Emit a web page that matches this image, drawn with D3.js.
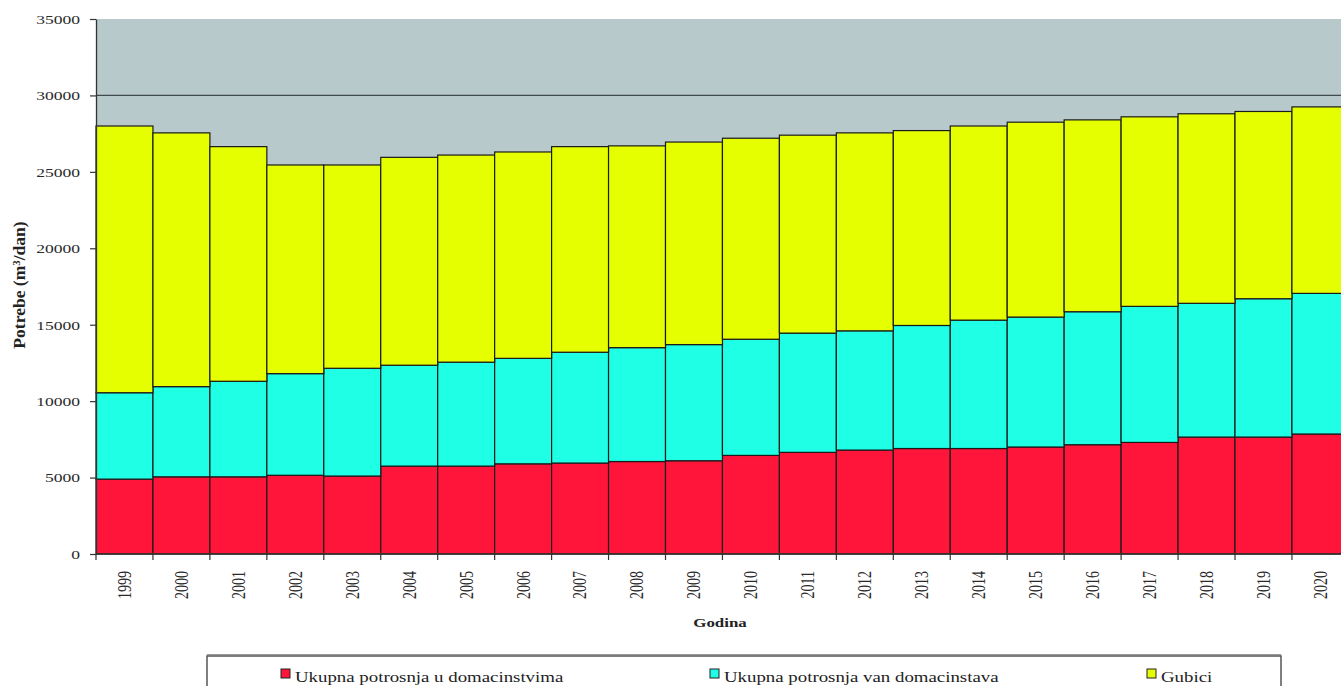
<!DOCTYPE html>
<html>
<head>
<meta charset="utf-8">
<script src="https://cdn.jsdelivr.net/npm/d3@7"></script>
<style>
  html, body { margin: 0; padding: 0; background: #fff; }
  svg { display: block; font-family: "Liberation Serif", "Times New Roman", serif; }
</style>
</head>
<body>
<svg id="chart" width="1341" height="686"></svg>
<script>
// Daily water demand by year (m3/dan)
const years = ["1999","2000","2001","2002","2003","2004","2005","2006","2007","2008","2009",
               "2010","2011","2012","2013","2014","2015","2016","2017","2018","2019","2020"];
const households    = [4900, 5050, 5050, 5150, 5100, 5750, 5750, 5900, 5950, 6050, 6100,
                       6450, 6650, 6800, 6900, 6900, 7000, 7150, 7300, 7650, 7650, 7850];
const nonHouseholds = [5650, 5900, 6250, 6650, 7050, 6600, 6800, 6900, 7250, 7450, 7600,
                       7600, 7800, 7800, 8050, 8400, 8500, 8700, 8900, 8750, 9050, 9200];
const losses        = [17450, 16600, 15350, 13650, 13300, 13600, 13550, 13500, 13450, 13200, 13250,
                       13150, 12950, 12950, 12750, 12700, 12750, 12550, 12400, 12400, 12250, 12200];
const seriesNames = ["Ukupna potrosnja u domacinstvima", "Ukupna potrosnja van domacinstava", "Gubici"];
const seriesColors = ["#ff143a", "#1effe6", "#e6ff00"];
const yTicks = [0, 5000, 10000, 15000, 20000, 25000, 30000, 35000];

const svg = d3.select("#chart");
const SX = 1.3; // wide lettering used throughout the chart
const plotLeft = 96, plotTop = 19, plotBottom = 554, bandW = 56.95;

const rows = years.map((yr, i) => ({ year: yr, h: households[i], n: nonHouseholds[i], g: losses[i] }));
const keys = ["h", "n", "g"];
const stack = d3.stack().keys(keys)(rows);

const x = d3.scaleBand().domain(years).range([plotLeft, plotLeft + bandW * years.length]).padding(0);
const y = d3.scaleLinear().domain([0, 35000]).range([plotBottom, plotTop]);

// plot background
svg.append("rect")
  .attr("x", plotLeft).attr("y", plotTop)
  .attr("width", x.range()[1] - plotLeft).attr("height", plotBottom - plotTop)
  .attr("fill", "#b7c9cb");

// horizontal gridlines
svg.append("g").selectAll("line")
  .data(yTicks.filter(t => t > 0 && t < 35000))
  .join("line")
  .attr("x1", plotLeft).attr("x2", x.range()[1])
  .attr("y1", d => y(d)).attr("y2", d => y(d))
  .attr("stroke", "#3f4a4c").attr("stroke-width", 1.2);

// stacked bars
svg.append("g").selectAll("g")
  .data(stack)
  .join("g")
  .attr("fill", (d, i) => seriesColors[i])
  .selectAll("rect")
  .data(d => d)
  .join("rect")
  .attr("x", d => x(d.data.year))
  .attr("width", x.bandwidth())
  .attr("y", d => y(d[1]))
  .attr("height", d => y(d[0]) - y(d[1]))
  .attr("stroke", "#1a1a1a")
  .attr("stroke-width", 1.2);

// y axis
const yAxis = svg.append("g")
  .attr("transform", `translate(${plotLeft},0)`)
  .call(d3.axisLeft(y).tickValues(yTicks).tickSize(6).tickSizeOuter(0).tickFormat(d3.format("d")));
yAxis.select(".domain").attr("stroke", "#333").attr("stroke-width", 1.3);
yAxis.selectAll(".tick line").attr("stroke", "#333").attr("stroke-width", 1.2);
yAxis.selectAll(".tick text")
  .attr("x", -16 / SX)
  .attr("transform", `scale(${SX},1)`)
  .attr("font-family", "Liberation Serif")
  .attr("font-size", 13.5)
  .attr("fill", "#2a2a2a");

// x axis line and boundary ticks
svg.append("line")
  .attr("x1", plotLeft).attr("x2", x.range()[1])
  .attr("y1", plotBottom).attr("y2", plotBottom)
  .attr("stroke", "#333").attr("stroke-width", 1.3);
const edges = years.map(d => x(d)).concat([x.range()[1]]);
svg.append("g").selectAll("line")
  .data(edges)
  .join("line")
  .attr("x1", d => d).attr("x2", d => d)
  .attr("y1", plotBottom).attr("y2", plotBottom + 6)
  .attr("stroke", "#333").attr("stroke-width", 1.2);

// year labels
svg.append("g").selectAll("text")
  .data(years)
  .join("text")
  .attr("transform", d => `translate(${x(d) + x.bandwidth() / 2},571) scale(${SX},1) rotate(-90)`)
  .attr("text-anchor", "end")
  .attr("dy", "0.35em")
  .attr("font-size", 14)
  .attr("fill", "#2a2a2a")
  .text(d => d);

// axis titles
svg.append("text")
  .attr("transform", `translate(720,627) scale(${SX},1)`)
  .attr("text-anchor", "middle")
  .attr("font-size", 13)
  .attr("font-weight", "bold")
  .attr("fill", "#222")
  .text("Godina");

const yTitle = svg.append("text")
  .attr("transform", `translate(19,285) scale(${SX},1.35) rotate(-90)`)
  .attr("text-anchor", "middle")
  .attr("dy", "0.35em")
  .attr("font-size", 13)
  .attr("font-weight", "bold")
  .attr("fill", "#222");
yTitle.append("tspan").text("Potrebe (m");
yTitle.append("tspan").attr("baseline-shift", "super").attr("font-size", 8).text("3");
yTitle.append("tspan").text("/dan)");

// legend
svg.append("rect")
  .attr("x", 207).attr("y", 656)
  .attr("width", 1074).attr("height", 60)
  .attr("fill", "#fff")
  .attr("stroke", "#555").attr("stroke-width", 1.5);
svg.append("line")
  .attr("x1", 207).attr("x2", 1281).attr("y1", 655).attr("y2", 655)
  .attr("stroke", "#777").attr("stroke-width", 1.5);

const legendX = [281, 710, 1147];
const legend = svg.append("g").selectAll("g")
  .data(seriesNames)
  .join("g")
  .attr("transform", (d, i) => `translate(${legendX[i]},0)`);
legend.append("rect")
  .attr("x", 0).attr("y", 669)
  .attr("width", 9).attr("height", 9)
  .attr("fill", (d, i) => seriesColors[i])
  .attr("stroke", "#222").attr("stroke-width", 1);
legend.append("text")
  .attr("transform", `translate(14,682) scale(${SX},1)`)
  .attr("font-size", 14.5)
  .attr("fill", "#222")
  .text(d => d);
</script>
</body>
</html>
